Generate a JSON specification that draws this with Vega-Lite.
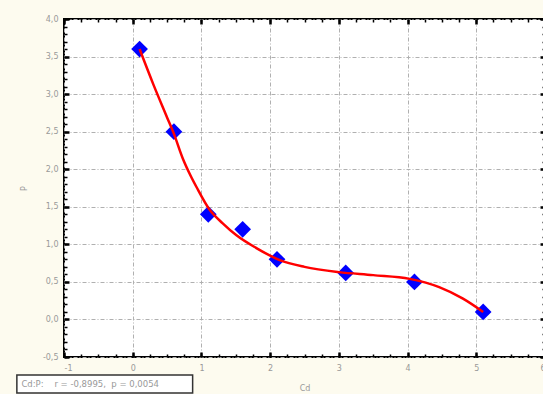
{
  "$schema": "https://vega.github.io/schema/vega-lite/v6.json",
  "width": 481,
  "height": 338,
  "autosize": {"type": "none"},
  "padding": {"left": 64, "top": 19, "right": 0, "bottom": 37},
  "background": "#fdfbef",
  "config": {
    "view": {"fill": "white", "stroke": "black", "strokeWidth": 2},
    "axis": {"labelFont": "DejaVu Sans", "titleFont": "DejaVu Sans", "labelColor": "#999999", "titleColor": "#999999", "labelFontSize": 8, "titleFontSize": 8, "titleFontWeight": "normal", "domain": false}
  },
  "resolve": {"axis": {"x": "independent", "y": "independent"}},
  "datasets": {
    "points": [
      {"Cd": 0.1, "P": 3.6},
      {"Cd": 0.6, "P": 2.5},
      {"Cd": 1.1, "P": 1.4},
      {"Cd": 1.6, "P": 1.2},
      {"Cd": 2.1, "P": 0.8},
      {"Cd": 3.1, "P": 0.62},
      {"Cd": 4.1, "P": 0.5},
      {"Cd": 5.1, "P": 0.1}
    ],
    "curve": [
      {"Cd": 0.1, "P": 3.6},
      {"Cd": 0.3, "P": 3.13},
      {"Cd": 0.5, "P": 2.69},
      {"Cd": 0.6, "P": 2.47},
      {"Cd": 0.73, "P": 2.14},
      {"Cd": 0.85, "P": 1.9},
      {"Cd": 0.93, "P": 1.76},
      {"Cd": 1.12, "P": 1.46},
      {"Cd": 1.31, "P": 1.28},
      {"Cd": 1.51, "P": 1.12},
      {"Cd": 1.8, "P": 0.95},
      {"Cd": 2.14, "P": 0.79},
      {"Cd": 2.5, "P": 0.7},
      {"Cd": 3.0, "P": 0.63},
      {"Cd": 3.5, "P": 0.59},
      {"Cd": 4.03, "P": 0.54},
      {"Cd": 4.46, "P": 0.43},
      {"Cd": 4.8, "P": 0.28},
      {"Cd": 5.1, "P": 0.1}
    ],
    "note": [
      {"label": "Cd:P:\u00a0\u00a0\u00a0\u00a0r = -0,8995,\u00a0\u00a0p = 0,0054"}
    ]
  },
  "layer": [
    {
      "data": {"name": "points"},
      "mark": {"type": "point", "shape": "diamond", "filled": true, "color": "#0000ff", "opacity": 1, "size": 280},
      "encoding": {
        "x": {"field": "Cd", "type": "quantitative", "scale": {"domain": [-1, 6], "nice": false, "zero": false},
          "axis": {"orient": "bottom", "values": [-1,-0.75,-0.5,-0.25,0,0.25,0.5,0.75,1,1.25,1.5,1.75,2,2.25,2.5,2.75,3,3.25,3.5,3.75,4,4.25,4.5,4.75,5,5.25,5.5,5.75,6], "labels": false, "grid": false, "tickSize": -3, "tickColor": "black", "tickWidth": 1.5, "title": null}},
        "y": {"field": "P", "type": "quantitative", "scale": {"domain": [-0.5, 4], "nice": false, "zero": false},
          "axis": {"orient": "left", "values": [-0.5,-0.4,-0.3,-0.2,-0.1,0,0.1,0.2,0.3,0.4,0.5,0.6,0.7,0.8,0.9,1,1.1,1.2,1.3,1.4,1.5,1.6,1.7,1.8,1.9,2,2.1,2.2,2.3,2.4,2.5,2.6,2.7,2.8,2.9,3,3.1,3.2,3.3,3.4,3.5,3.6,3.7,3.8,3.9,4], "labels": false, "grid": false, "tickSize": -3, "tickColor": "black", "tickWidth": 1.5, "title": null}}
      }
    },
    {
      "data": {"name": "points"},
      "mark": {"type": "point", "opacity": 0},
      "encoding": {
        "x": {"field": "Cd", "type": "quantitative",
          "axis": {"orient": "top", "values": [-1,-0.75,-0.5,-0.25,0,0.25,0.5,0.75,1,1.25,1.5,1.75,2,2.25,2.5,2.75,3,3.25,3.5,3.75,4,4.25,4.5,4.75,5,5.25,5.5,5.75,6], "labels": false, "grid": false, "tickSize": -3, "tickColor": "black", "tickWidth": 1.5, "title": null}},
        "y": {"field": "P", "type": "quantitative",
          "axis": {"orient": "right", "values": [-0.5,-0.4,-0.3,-0.2,-0.1,0,0.1,0.2,0.3,0.4,0.5,0.6,0.7,0.8,0.9,1,1.1,1.2,1.3,1.4,1.5,1.6,1.7,1.8,1.9,2,2.1,2.2,2.3,2.4,2.5,2.6,2.7,2.8,2.9,3,3.1,3.2,3.3,3.4,3.5,3.6,3.7,3.8,3.9,4], "labels": false, "grid": false, "tickSize": -3, "tickColor": "black", "tickWidth": 1.5, "title": null}}
      }
    },
    {
      "data": {"name": "points"},
      "mark": {"type": "point", "opacity": 0},
      "encoding": {
        "x": {"field": "Cd", "type": "quantitative",
          "axis": {"orient": "top", "values": [-1,0,1,2,3,4,5,6], "labels": false, "grid": false, "tickSize": -5, "tickColor": "black", "tickWidth": 2.5, "title": null}},
        "y": {"field": "P", "type": "quantitative",
          "axis": {"orient": "right", "values": [-0.5,0,0.5,1,1.5,2,2.5,3,3.5,4], "labels": false, "grid": false, "tickSize": -5, "tickColor": "black", "tickWidth": 2.5, "title": null}}
      }
    },
    {
      "data": {"name": "curve"},
      "mark": {"type": "line", "color": "#ff0000", "strokeWidth": 2.5, "interpolate": "monotone"},
      "encoding": {
        "x": {"field": "Cd", "type": "quantitative",
          "axis": {"orient": "bottom", "values": [-1,0,1,2,3,4,5,6], "grid": true, "gridColor": "#b0b0b0", "gridDash": [4,2,1,2], "gridWidth": 1, "ticks": true, "tickSize": -5, "tickColor": "black", "tickWidth": 2.5, "labelPadding": 12, "labelExpr": "toString(datum.value)", "title": "Cd", "titlePadding": 12}},
        "y": {"field": "P", "type": "quantitative",
          "axis": {"orient": "left", "values": [-0.5,0,0.5,1,1.5,2,2.5,3,3.5,4], "grid": true, "gridColor": "#b0b0b0", "gridDash": [4,2,1,2], "gridWidth": 1, "ticks": true, "tickSize": -5, "tickColor": "black", "tickWidth": 2.5, "labelPadding": 11, "labelExpr": "(datum.value < 0 ? '-' : '') + replace(format(abs(datum.value), '.1f'), '.', ',')", "title": "P", "titlePadding": 14}}
      }
    },
    {
      "data": {"name": "note"},
      "mark": {"type": "rect", "fill": "white", "stroke": "#333333", "strokeWidth": 1.5},
      "encoding": {
        "x": {"datum": -1.686, "type": "quantitative", "axis": null},
        "x2": {"datum": 0.872},
        "y": {"datum": -0.74, "type": "quantitative", "axis": null},
        "y2": {"datum": -0.98}
      }
    },
    {
      "data": {"name": "note"},
      "mark": {"type": "text", "align": "left", "baseline": "middle", "font": "DejaVu Sans", "fontSize": 8.5, "color": "#999999"},
      "encoding": {
        "x": {"datum": -1.62, "type": "quantitative", "axis": null},
        "y": {"datum": -0.86, "type": "quantitative", "axis": null},
        "text": {"field": "label"}
      }
    }
  ]
}
